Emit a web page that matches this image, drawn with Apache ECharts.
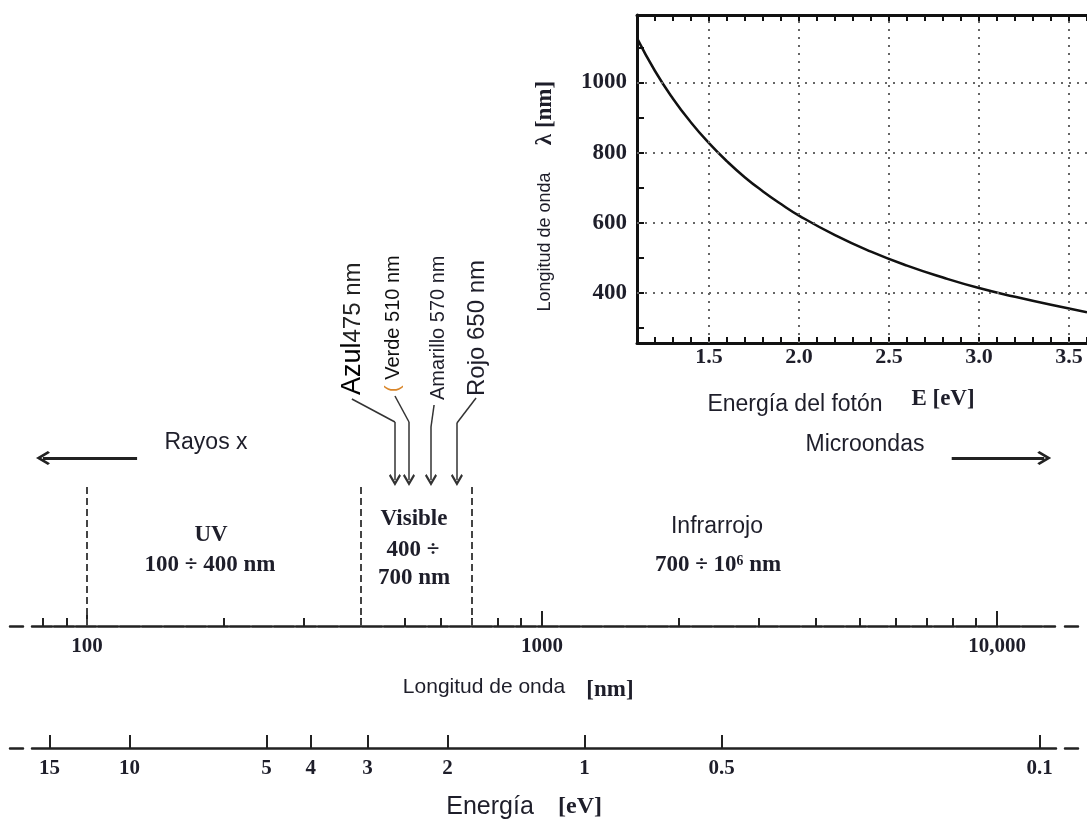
<!DOCTYPE html>
<html>
<head>
<meta charset="utf-8">
<title>Espectro</title>
<script src="https://cdn.jsdelivr.net/npm/echarts@6/dist/echarts.min.js"></script>
<style>
  html, body { margin: 0; padding: 0; background: #fff; }
  #chart { width: 1087px; height: 820px; }
</style>
</head>
<body>
<div id="chart"></div>
<script>
// --- recuadro: longitud de onda frente a energía del fotón
var energiaEv = [1.1, 1.2, 1.3, 1.4, 1.5, 1.6, 1.7, 1.8, 1.9, 2.0, 2.2, 2.4, 2.6, 2.8, 3.0, 3.2, 3.4, 3.6];
var lambdaNm  = [1127, 1033, 954, 886, 827, 775, 729, 689, 653, 620, 564, 517, 477, 443, 413, 388, 365, 344];
var recuadroX = [1.5, 2.0, 2.5, 3.0, 3.5];
var recuadroYTicks = [300, 400, 500, 600, 700, 800, 900, 1000, 1100];
var recuadroY = [400, 600, 800, 1000];

// --- escala del espectro (nm, logarítmica) y escala de energía (eV)
var ondaMayor = [100, 1000, 10000];
var ondaEtiquetas = ['100', '1000', '10,000'];
var ondaMenor = [80, 90, 200, 300, 400, 500, 600, 700, 800, 900,
                 2000, 3000, 4000, 5000, 6000, 7000, 8000, 9000];
var energiaTicks = [15, 10, 5, 4, 3, 2, 1, 0.5, 0.1];
var limitesBanda = [100, 400, 700];      // UV | visible | infrarrojo
var coloresNm = [475, 510, 570, 650];    // azul, verde, amarillo, rojo
var hc = 1240;                           // E [eV] = 1240 / lambda [nm]
var ondaMin = 67.7, ondaMax = 15066;

var L = Math.log10;
var sans = '"Liberation Sans", Arial, sans-serif';
var serif = '"Liberation Serif", "DejaVu Serif", serif';
var tinta = '#1e1e2a';

// flechas: altura en px sobre el eje de longitud de onda
var origenGuia = [382, 475, 579, 716];   // donde empieza cada guía (nm)
var altoGuia   = [227, 230, 221, 228];
var altoCodo   = [204, 204, 199, 203];
var altoPunta  = 146;
var chevron = 'path://M50,0 L100,68 L87,80 L50,30 L13,80 L0,68 Z';

// trazo del eje de longitud de onda: guion suelto, tramo a trozos, guion suelto
var trazoOnda = [13, 9];
for (var s = 0; s < 46; s++) trazoOnda.push(20, 2);
trazoOnda.push(11, 10, 14, 10);
var trazoEnergia = [13, 9, 1024, 9, 13];

var chart = echarts.init(document.getElementById('chart'));

function texto(x, y, t, font, extra) {
  var st = { text: t, font: font, fill: tinta, align: 'center', verticalAlign: 'middle',
             textAlign: 'center', textVerticalAlign: 'middle' };
  var el = { type: 'text', x: x, y: y, z: 50, style: st };
  if (extra) {
    if (extra.rotation) el.rotation = extra.rotation;
    if (extra.rich) st.rich = extra.rich;
    if (extra.align) { st.align = extra.align; st.textAlign = extra.align; }
  }
  return el;
}

var vertical = { rotation: Math.PI / 2, align: 'left' };

var option = {
  animation: false,
  backgroundColor: '#fff',
  grid: [
    { left: 637, top: 15, right: -6, bottom: 477 },
    { left: 10, right: 9, top: 380, bottom: 194 },
    { left: 10, right: 9, top: 700, bottom: 72 }
  ],
  xAxis: [
    {
      gridIndex: 0, type: 'value', position: 'bottom', min: 1.1, max: 3.6, interval: 0.1,
      axisLine: { onZero: false, lineStyle: { color: '#111', width: 3 } },
      axisTick: { inside: true, length: 6, lineStyle: { color: '#111', width: 2 } },
      axisLabel: {
        customValues: recuadroX, margin: 3,
        formatter: function (v) { return v.toFixed(1); },
        fontFamily: serif, fontSize: 22, fontWeight: 'bold', color: tinta
      },
      splitLine: { show: false }
    },
    {
      gridIndex: 0, type: 'value', position: 'top', min: 1.1, max: 3.6, interval: 0.1,
      axisLine: { onZero: false, lineStyle: { color: '#111', width: 3 } },
      axisTick: { inside: true, length: 6, lineStyle: { color: '#111', width: 2 } },
      axisLabel: { show: false },
      splitLine: { show: false }
    },
    {
      gridIndex: 1, type: 'value', position: 'bottom', min: L(ondaMin), max: L(ondaMax),
      axisLine: { onZero: false, lineStyle: { color: '#222', width: 2.5, type: trazoOnda } },
      axisTick: { inside: true, length: 8, customValues: ondaMenor.map(L), lineStyle: { color: '#222', width: 2 } },
      axisLabel: { show: false },
      splitLine: { show: false }
    },
    {
      gridIndex: 1, type: 'value', position: 'bottom', min: L(ondaMin), max: L(ondaMax),
      axisLine: { show: false, onZero: false },
      axisTick: { inside: true, length: 15, customValues: ondaMayor.map(L), lineStyle: { color: '#222', width: 2 } },
      axisLabel: {
        customValues: ondaMayor.map(L), margin: 10,
        formatter: function (v) {
          var i = ondaMayor.indexOf(Math.round(Math.pow(10, v)));
          return i >= 0 ? ondaEtiquetas[i] : '';
        },
        fontFamily: serif, fontSize: 21, fontWeight: 'bold', color: tinta
      },
      splitLine: { show: false }
    },
    {
      gridIndex: 2, type: 'value', position: 'bottom', inverse: true, min: L(hc / ondaMax), max: L(hc / ondaMin),
      axisLine: { onZero: false, lineStyle: { color: '#222', width: 2.5, type: trazoEnergia } },
      axisTick: { inside: true, length: 13, customValues: energiaTicks.map(L), lineStyle: { color: '#222', width: 2 } },
      axisLabel: {
        customValues: energiaTicks.map(L), margin: 10,
        formatter: function (v) { return String(parseFloat(Math.pow(10, v).toPrecision(6))); },
        fontFamily: serif, fontSize: 21, fontWeight: 'bold', color: tinta
      },
      splitLine: { show: false }
    }
  ],
  yAxis: [
    {
      gridIndex: 0, type: 'value', min: 256, max: 1193,
      axisLine: { onZero: false, lineStyle: { color: '#111', width: 3 } },
      axisTick: { inside: true, length: 7, customValues: recuadroYTicks, lineStyle: { color: '#111', width: 2 } },
      axisLabel: {
        customValues: recuadroY, margin: 10,
        formatter: function (v) { return String(v); },
        fontFamily: serif, fontSize: 23, fontWeight: 'bold', color: tinta
      },
      splitLine: { show: false }
    },
    { gridIndex: 1, type: 'value', min: 0, max: 246, show: false },
    { gridIndex: 2, type: 'value', min: 0, max: 1, show: false }
  ],
  series: [
    {
      name: 'lambda', type: 'line', xAxisIndex: 0, yAxisIndex: 0,
      data: energiaEv.map(function (e, i) { return [e, lambdaNm[i]]; }),
      smooth: true, showSymbol: false,
      lineStyle: { color: '#111', width: 2.5 },
      markLine: {
        silent: true, symbol: ['none', 'none'], label: { show: false },
        lineStyle: { color: '#666', width: 2, type: [2, 6] },
        data: recuadroX.map(function (v) { return { xAxis: v }; })
          .concat(recuadroY.map(function (v) { return { yAxis: v }; }))
      }
    },
    {
      name: 'limites', type: 'lines', coordinateSystem: 'cartesian2d', xAxisIndex: 2, yAxisIndex: 1,
      lineStyle: { color: '#444', width: 2, type: [7, 4], opacity: 1 },
      data: limitesBanda.map(function (nm) { return { coords: [[L(nm), 0], [L(nm), 141]] }; })
    },
    {
      name: 'guias', type: 'lines', coordinateSystem: 'cartesian2d', xAxisIndex: 2, yAxisIndex: 1,
      lineStyle: { color: '#333', width: 1.5, opacity: 1 },
      data: coloresNm.map(function (nm, i) {
        return { coords: [[L(origenGuia[i]), altoGuia[i]], [L(nm), altoCodo[i]]] };
      })
    },
    {
      name: 'flechas', type: 'lines', coordinateSystem: 'cartesian2d', xAxisIndex: 2, yAxisIndex: 1,
      symbol: ['none', chevron], symbolSize: [13, 12],
      lineStyle: { color: '#333', width: 1.5, opacity: 1 },
      itemStyle: { color: '#333' },
      data: coloresNm.map(function (nm, i) {
        return { coords: [[L(nm), altoCodo[i]], [L(nm), altoPunta]] };
      })
    },
    {
      name: 'extremos', type: 'lines', coordinateSystem: 'cartesian2d', xAxisIndex: 2, yAxisIndex: 1,
      symbol: ['none', chevron], symbolSize: [17, 14],
      lineStyle: { color: '#222', width: 3, opacity: 1 },
      data: [
        { coords: [[L(128.8), 168], [L(80), 168]] },
        { coords: [[L(7951), 168], [L(12700), 168]] }
      ]
    }
  ],
  graphic: [
    texto(545, 242, 'Longitud de onda', '18px ' + sans, { rotation: Math.PI / 2 }),
    texto(545, 113, 'λ [nm]', 'bold 23px ' + serif, { rotation: Math.PI / 2 }),
    texto(795, 405, 'Energía del fotón', '23px ' + sans),
    texto(943, 399, 'E [eV]', 'bold 23px ' + serif),
    texto(206, 443, 'Rayos x', '23px ' + sans),
    texto(865, 445, 'Microondas', '23px ' + sans),
    texto(211, 535, 'UV', 'bold 23px ' + serif),
    texto(210, 565, '100 ÷ 400 nm', 'bold 23px ' + serif),
    texto(414, 519, 'Visible', 'bold 23px ' + serif),
    texto(413, 550, '400 ÷', 'bold 23px ' + serif),
    texto(414, 578, '700 nm', 'bold 23px ' + serif),
    texto(717, 527, 'Infrarrojo', '23px ' + sans),
    texto(718, 565, '700 ÷ 10⁶ nm', 'bold 23px ' + serif),
    texto(484, 687, 'Longitud de onda', '21px ' + sans),
    texto(610, 690, '[nm]', 'bold 23px ' + serif),
    texto(490, 807, 'Energía', '25px ' + sans),
    texto(580, 807, '[eV]', 'bold 24px ' + serif),
    texto(353, 395, '{a|Azul}{b|475 nm}', '24px ' + sans, {
      rotation: Math.PI / 2, align: 'left',
      rich: { a: { fontFamily: sans, fontSize: 27, fill: '#000' }, b: { fontFamily: sans, fontSize: 24, fill: '#222' } }
    }),
    texto(393, 392, '{o|(}{a| Verde 510 nm}', '20px ' + sans, {
      rotation: Math.PI / 2, align: 'left',
      rich: { o: { fontFamily: sans, fontSize: 20, fill: '#d9862a' }, a: { fontFamily: sans, fontSize: 20, fill: '#111' } }
    }),
    texto(438, 400, 'Amarillo 570 nm', '20px ' + sans, vertical),
    texto(477, 396, 'Rojo 650 nm', '24px ' + sans, vertical)
  ]
};

chart.setOption(option);
window.onresize = function () { chart.resize(); };
</script>
</body>
</html>
